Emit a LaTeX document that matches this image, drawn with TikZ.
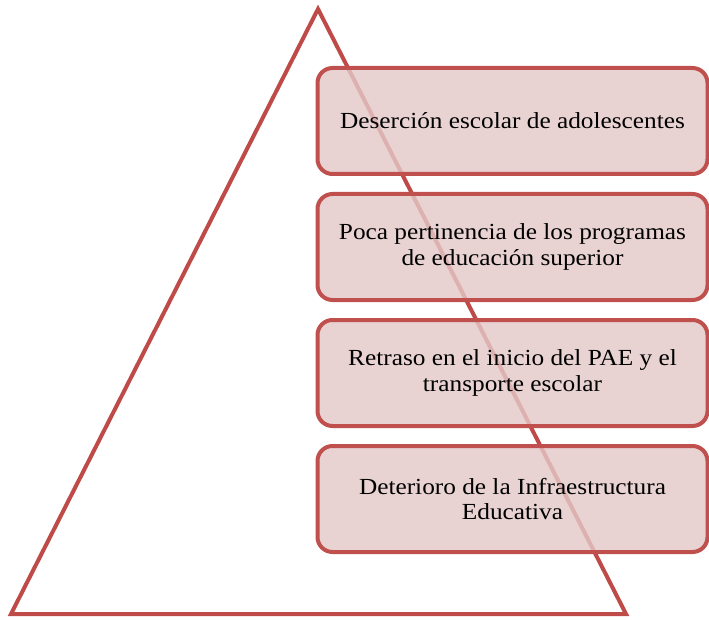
\documentclass[tikz,border=0pt]{standalone}
\usepackage{fontspec}
\setmainfont[FakeStretch=1.1]{Liberation Serif}
\usetikzlibrary{positioning}
\definecolor{piramide}{HTML}{BE4B48}
\definecolor{caja}{HTML}{C0504D}
\definecolor{relleno}{HTML}{E3C8C8}
\tikzset{>=latex}
\hyphenpenalty=10000
\begin{document}
\begin{tikzpicture}[x=1pt,y=-1pt,
		causa/.style={draw=caja,line width=4pt,fill=relleno,fill opacity=0.82,text opacity=1,
			rounded corners=15pt,minimum width=390pt,minimum height=106pt,
			align=center,font=\fontsize{23}{25.5}\selectfont},
		node distance=16pt]
		\useasboundingbox (0,0) rectangle (709,620);
		\draw[piramide,line width=4pt,line join=miter] (318,9) -- (626,614) -- (11,614) -- cycle;
		\node[causa] (desercion) at (512.5,121) {Deserción escolar de adolescentes};
		\node[causa,below=of desercion] (pertinencia) {Poca pertinencia de los programas\\de educación superior};
		\node[causa,below=of pertinencia] (retraso) {Retraso en el inicio del PAE y el\\transporte escolar};
		\node[causa,below=of retraso] (deterioro) {Deterioro de la Infraestructura\\Educativa};
	\end{tikzpicture}
\end{document}
